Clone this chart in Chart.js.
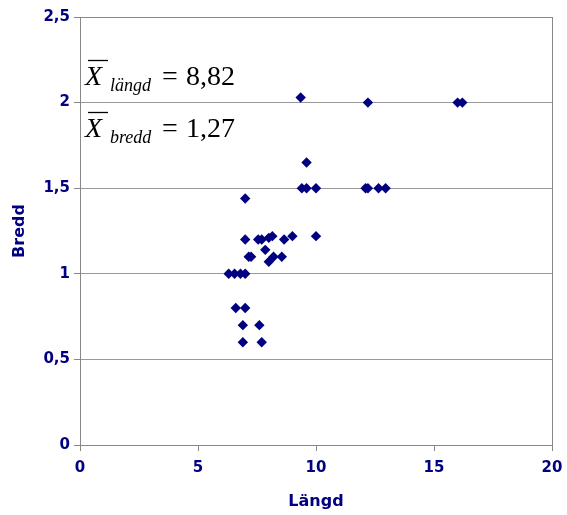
<!DOCTYPE html>
<html>
<head>
<meta charset="utf-8">
<script src="https://cdn.jsdelivr.net/npm/chart.js@4/dist/chart.umd.min.js"></script>
<style>
  html, body { margin: 0; padding: 0; background: #fff; }
  #wrap { width: 567px; height: 515px; }
</style>
</head>
<body>
<div id="wrap"><canvas id="chart" width="567" height="515"></canvas></div>
<script>
// Data
const langd = [9.35, 12.2, 16.0, 16.2,
    9.6,
    9.4, 9.6, 10.0, 12.1, 12.2, 12.65, 12.95,
    7.0,
    7.0, 7.55, 7.7, 8.0, 8.15, 8.65, 9.0, 10.0,
    7.85,
    7.15, 7.25, 8.2, 8.55, 8.0,
    6.3, 6.55, 6.8, 7.0,
    6.6, 7.0,
    6.9, 7.6,
    6.9, 7.7];
const bredd = [2.03, 2.0, 2.0, 2.0,
    1.65,
    1.5, 1.5, 1.5, 1.5, 1.5, 1.5, 1.5,
    1.44,
    1.2, 1.2, 1.2, 1.21, 1.22, 1.2, 1.22, 1.22,
    1.14,
    1.1, 1.1, 1.1, 1.1, 1.07,
    1.0, 1.0, 1.0, 1.0,
    0.8, 0.8,
    0.7, 0.7,
    0.6, 0.6];
const yTickLabels = ['0', '0,5', '1', '1,5', '2', '2,5'];
const xTickLabels = ['0', '5', '10', '15', '20'];
const meanLangd = '8,82';
const meanBredd = '1,27';

const navy = '#000080';
const gray = '#999999';

const points = langd.map((x, i) => ({ x: x, y: bredd[i] }));

// box round the plot area + the mean values written inside it
const extras = {
    id: 'extras',
    afterDraw(chart) {
        const ctx = chart.ctx;
        const a = chart.chartArea;
        ctx.save();
        ctx.strokeStyle = '#888888';
        ctx.lineWidth = 1;
        ctx.strokeRect(a.left + 0.5, a.top + 0.5, a.right - a.left, a.bottom - a.top);

        ctx.fillStyle = '#000';
        ctx.strokeStyle = '#000';
        const lines = [
            { sub: 'längd', val: meanLangd, base: 85 },
            { sub: 'bredd', val: meanBredd, base: 137 }
        ];
        lines.forEach(l => {
            ctx.textBaseline = 'alphabetic';
            ctx.font = 'italic 28px "Liberation Serif"';
            ctx.fillText('X', 85, l.base);
            ctx.beginPath();
            ctx.moveTo(88, l.base - 24.5);
            ctx.lineTo(108, l.base - 24.5);
            ctx.lineWidth = 1.3;
            ctx.stroke();
            ctx.font = 'italic 18px "Liberation Serif"';
            ctx.fillText(l.sub, 110, l.base + 6);
            ctx.font = '28px "Liberation Serif"';
            ctx.fillText('=', 162, l.base);
            ctx.fillText(l.val, 186, l.base);
        });
        ctx.restore();
    }
};

new Chart(document.getElementById('chart'), {
    type: 'scatter',
    data: {
        datasets: [{
            data: points,
            pointStyle: 'rectRot',
            pointRadius: 5.2,
            backgroundColor: navy,
            borderColor: navy,
            borderWidth: 0
        }]
    },
    options: {
        responsive: false,
        animation: false,
        layout: { padding: { top: 17, right: 15, left: 0, bottom: 0 } },
        plugins: {
            legend: { display: false },
            tooltip: { enabled: false }
        },
        scales: {
            x: {
                type: 'linear',
                min: 0,
                max: 20,
                afterFit: (s) => { s.height = 70; s.paddingLeft = 0; s.paddingRight = 0; },
                afterBuildTicks: (s) => { s.ticks = xTickLabels.map((t, i) => ({ value: i * 5 })); },
                ticks: {
                    color: navy,
                    font: { family: 'DejaVu Sans', weight: 'bold', size: 15 },
                    padding: 8,
                    maxRotation: 0,
                    callback: (v, i) => xTickLabels[i]
                },
                grid: {
                    color: 'transparent',
                    tickColor: '#888888',
                    tickLength: 6
                },
                border: { color: '#888888' },
                title: {
                    display: true,
                    text: 'Längd',
                    color: navy,
                    font: { family: 'DejaVu Sans', weight: 'bold', size: 16 },
                    padding: { top: 6 }
                }
            },
            y: {
                type: 'linear',
                min: 0,
                max: 2.5,
                afterFit: (s) => { s.width = 80; },
                afterBuildTicks: (s) => { s.ticks = yTickLabels.map((t, i) => ({ value: i * 0.5 })); },
                ticks: {
                    color: navy,
                    font: { family: 'DejaVu Sans', weight: 'bold', size: 15 },
                    padding: 4,
                    callback: (v, i) => yTickLabels[i]
                },
                grid: {
                    color: gray,
                    tickColor: '#888888',
                    tickLength: 6
                },
                border: { color: '#888888' },
                title: {
                    display: true,
                    text: 'Bredd',
                    color: navy,
                    font: { family: 'DejaVu Sans', weight: 'bold', size: 16 },
                    padding: { top: 10, bottom: 16 }
                }
            }
        }
    },
    plugins: [extras]
});
</script>
</body>
</html>
